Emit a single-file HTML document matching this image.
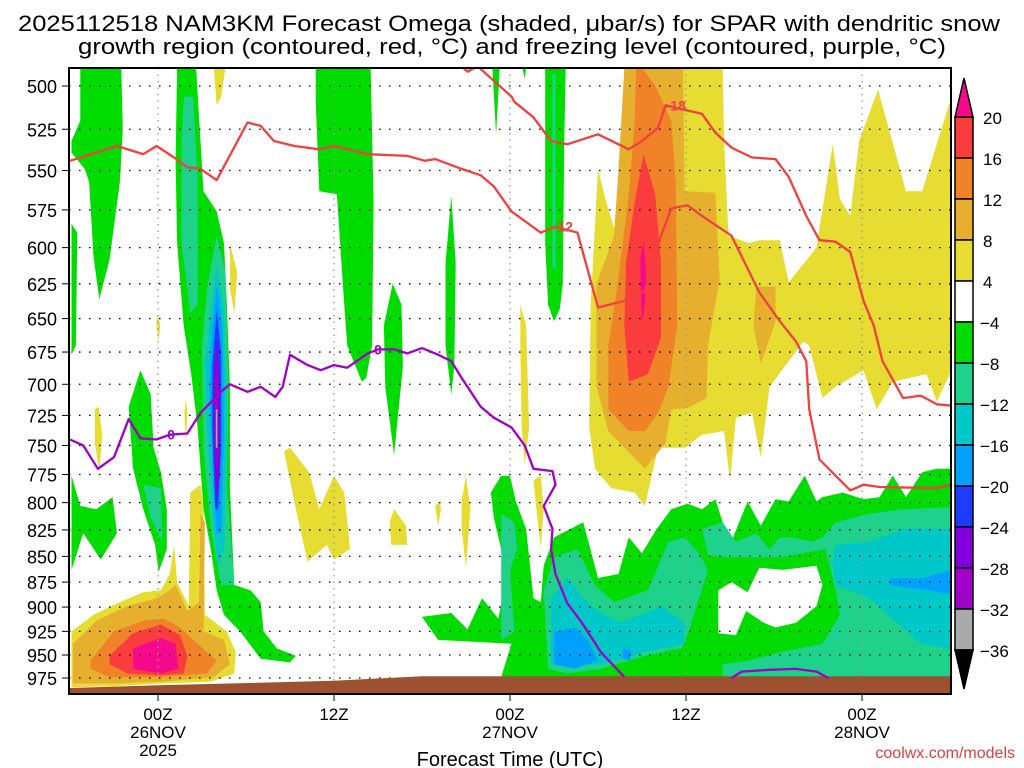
<!DOCTYPE html>
<html><head><meta charset="utf-8"><style>
html,body{margin:0;padding:0;background:#fff;}
svg{display:block;font-family:"Liberation Sans",sans-serif;}
</style></head><body>
<svg id="chart" width="1024" height="768" viewBox="0 0 1024 768" xmlns="http://www.w3.org/2000/svg">
<defs><clipPath id="plotclip"><rect x="69" y="68" width="882" height="626"/></clipPath></defs>
<text x="18" y="31" font-size="22" textLength="982" lengthAdjust="spacingAndGlyphs">2025112518 NAM3KM Forecast Omega (shaded, μbar/s) for SPAR with dendritic snow</text>
<text x="78" y="54" font-size="22" textLength="868" lengthAdjust="spacingAndGlyphs">growth region (contoured, red, °C) and freezing level (contoured, purple, °C)</text>
<g id="shade" clip-path="url(#plotclip)"></g>
<g id="grid" clip-path="url(#plotclip)"></g>
<g id="ground" clip-path="url(#plotclip)"></g>
<g id="contours" clip-path="url(#plotclip)"></g>
<rect x="69" y="68" width="882" height="626" fill="none" stroke="#000" stroke-width="2"/>
<g id="axes"></g>
<g id="cbar"></g>
<text x="510" y="766" font-size="20" text-anchor="middle">Forecast Time (UTC)</text>
<text x="1015" y="758" font-size="16" fill="#e04040" text-anchor="end">coolwx.com/models</text>
</svg>
<script>
// ===== data =====
const pressureTicks = [500,525,550,575,600,625,650,675,700,725,750,775,800,825,850,875,900,925,950,975];
const timeTicksHours = [0,12,24,36,48];
const timeTickLabels = [["00Z","26NOV","2025"],["12Z"],["00Z","27NOV"],["12Z"],["00Z","28NOV"]];
const cbarLevels = [20,16,12,8,4,-4,-8,-12,-16,-20,-24,-28,-32,-36];
const cbarColors = ["#f50a8c","#fa3c3c","#f08228","#e6af2d","#e6dc32","#ffffff","#00dc00","#1ed28c","#00c8c8","#00a0ff","#1e3cff","#8200dc","#a000c8","#aaaaaa","#000000"];
const shadeColor = {m:"#f50a8c",r:"#fa3c3c",o:"#f08228",go:"#e6af2d",y:"#e6dc32",w:"#ffffff",g:"#00dc00",t:"#1ed28c",c:"#00c8c8",lb:"#00a0ff",b:"#1e3cff",pu:"#8200dc",vi:"#a000c8",gr:"#aaaaaa"};
// shaded regions: [class, [[hour, hPa], ...]]
const shadeRegions = [
 ["g",[[-5.3,490],[-2.5,490],[-2.4,525],[-2.6,557],[-3.3,608],[-4.0,636],[-4.4,606],[-4.7,557],[-5.0,549],[-5.9,539],[-5.9,532],[-5.3,520]]],
 ["g",[[-5.9,584],[-5.5,590],[-5.6,670],[-5.9,677]]],
 ["g",[[-5.9,776],[-5.3,803],[-4.2,806],[-3.1,795],[-2.8,828],[-3.9,853],[-5.1,828],[-5.9,863]]],
 ["g",[[-2.0,718],[-1.2,689],[-0.5,708],[-0.3,752],[0.2,773],[0.6,806],[0.6,843],[0.05,865],[-0.2,839],[-1.0,806],[-1.7,770]]],
 ["g",[[1.3,490],[2.6,490],[3.1,563],[4.0,576],[4.5,597],[4.7,640],[4.9,702],[4.9,787],[5.2,878],[6.3,883],[7.0,895],[7.2,925],[8.1,943],[9.4,951],[9.0,958],[7.0,954],[5.6,925],[4.5,908],[4.0,883],[3.6,843],[3.1,806],[2.7,735],[2.3,695],[1.75,655],[1.3,597],[1.2,544]]],
 ["g",[[10.75,490],[14.5,490],[14.7,570],[14.6,670],[14.2,695],[13.9,698],[12.9,670],[12.6,625],[12.2,565],[11.0,563],[10.75,509]]],
 ["g",[[16.0,625],[16.6,640],[16.7,686],[16.1,758],[15.5,702],[15.4,655]]],
 ["g",[[20.0,566],[20.3,611],[20.2,686],[20.0,708],[19.6,670],[19.6,611]]],
 ["g",[[22.8,490],[23.3,490],[23.05,528]]],
 ["g",[[24.85,490],[25.1,490],[25.0,496]]],
 ["g",[[26.4,490],[27.8,490],[27.7,532],[27.6,625],[27.4,643],[27.0,652],[26.6,640],[26.4,597]]],
 ["g",[[22.7,791],[23.4,776],[24.0,776],[24.4,799],[25.1,824],[25.4,863],[25.6,891],[26.1,895],[26.3,859],[27.0,832],[29.0,818],[30.0,871],[31.4,867],[32.1,832],[33.0,847],[34.0,824],[35.0,806],[36.1,801],[37.1,806],[38.0,797],[39.0,839],[40.2,799],[41.1,821],[42.1,797],[43.0,799],[44.1,776],[44.9,799],[45.3,795],[46.7,791],[48.1,797],[49.2,795],[50.1,776],[51.0,795],[52.1,773],[53.1,770],[54.1,770],[54.1,974],[23.4,974],[24.1,938],[19.1,934],[18.0,910],[20.0,906],[21.1,923],[22.1,891],[23.2,912],[23.8,867],[22.9,814]]],
 ["y",[[-5.9,925],[-4.4,908],[-2.6,895],[-1.0,885],[0.2,883],[0.8,867],[1.1,839],[1.3,875],[2.1,899],[2.2,791],[2.9,784],[3.1,806],[3.2,908],[4.7,925],[5.3,947],[5.2,970],[3.6,979],[0.2,981],[-3.0,984],[-5.9,985]]],
 ["y",[[3.8,490],[4.6,490],[4.3,506],[4.0,511]]],
 ["y",[[4.9,597],[5.4,617],[5.2,646],[4.9,628]]],
 ["y",[[-0.07,646],[0.16,655],[0.05,667],[-0.1,655]]],
 ["y",[[-4.3,720],[-4.05,718],[-3.8,741],[-4.0,773],[-4.3,748]]],
 ["y",[[1.9,711],[2.0,723],[1.9,748],[1.8,723]]],
 ["y",[[8.6,755],[9.0,752],[10.3,773],[11.0,806],[12.0,776],[12.7,791],[13.1,843],[12.0,853],[11.5,839],[10.2,855],[9.4,806]]],
 ["y",[[15.8,818],[16.1,806],[16.9,821],[17.0,839],[15.9,839]]],
 ["y",[[18.9,803],[19.2,799],[19.3,806],[19.1,821]]],
 ["y",[[20.7,799],[21.0,776],[21.3,806],[21.0,861],[20.7,824]]],
 ["y",[[24.7,640],[25.1,655],[25.3,735],[25.0,766],[24.8,735],[24.7,670]]],
 ["y",[[25.6,780],[26.1,776],[26.3,806],[26.1,842],[25.8,806]]],
 ["y",[[31.8,490],[38.5,490],[38.6,532],[38.9,592],[40.3,597],[41.0,595],[42.4,595],[43.0,624],[44.9,600],[46.0,534],[46.5,568],[47.2,579],[47.8,532],[49.1,502],[51.0,563],[52.1,563],[54.0,509],[54.1,509],[54.1,689],[53.1,714],[52.4,692],[50.1,698],[49.0,720],[48.1,689],[46.2,702],[45.3,711],[44.4,670],[44.0,667],[43.0,682],[41.7,702],[41.1,760],[40.5,723],[39.4,727],[39.0,780],[38.6,738],[37.1,741],[35.9,752],[34.1,752],[33.2,803],[32.5,791],[30.9,787],[29.8,770],[29.4,735],[29.5,640],[30.0,549],[30.5,568],[31.1,587],[31.6,539]]],
 ["go",[[-5.8,938],[-4.2,914],[-2.1,899],[-0.1,891],[0.8,883],[1.2,878],[2.0,904],[2.8,895],[2.9,810],[3.2,818],[3.1,925],[4.5,934],[4.9,960],[3.8,974],[0.2,979],[-3.0,981],[-5.8,981]]],
 ["go",[[31.8,490],[35.8,490],[35.9,563],[38.0,564],[38.3,622],[37.5,670],[37.4,711],[36.1,719],[35.0,720],[34.6,748],[33.2,770],[30.7,738],[29.9,702],[29.9,625],[31.1,592],[31.4,549],[31.7,504]]],
 ["go",[[40.8,627],[42.1,627],[42.1,652],[41.1,684],[40.6,655]]],
 ["o",[[-4.6,956],[-3.0,925],[-1.0,914],[0.4,912],[1.5,921],[2.4,934],[4.0,956],[3.35,970],[0.2,974],[-3.3,974],[-4.6,965]]],
 ["o",[[33.0,490],[33.9,500],[35.0,520],[35.3,557],[35.4,655],[34.8,702],[34.1,723],[33.2,738],[32.1,738],[30.7,720],[30.7,670],[31.3,628],[32.1,565],[32.5,520],[32.6,490]]],
 ["r",[[-3.3,951],[-1.7,927],[0.2,918],[1.5,929],[2.0,951],[1.75,970],[0.2,972],[-2.1,970],[-3.3,960]]],
 ["r",[[33.1,540],[33.9,565],[34.3,611],[34.3,664],[33.4,692],[32.1,698],[31.8,655],[31.9,611],[32.5,570]]],
 ["m",[[-1.7,943],[0.2,932],[1.2,938],[1.4,965],[0.2,970],[-1.7,965]]],
 ["m",[[33.1,595],[33.3,620],[33.2,640],[33.0,653],[32.9,628],[32.9,608]]],
 ["t",[[-1.0,784],[0.2,787],[0.3,836],[-0.5,814]]],
 ["t",[[1.75,506],[2.4,506],[2.7,557],[2.7,640],[2.2,646],[1.6,597],[1.6,532]]],
 ["t",[[3.35,628],[4.0,592],[4.6,617],[4.8,702],[4.7,787],[5.2,878],[4.3,878],[3.6,824],[3.1,752],[3.0,670]]],
 ["t",[[26.9,493],[27.1,493],[27.1,614],[26.9,614]]],
 ["t",[[23.4,810],[24.3,818],[24.5,843],[24.0,863],[24.3,925],[23.4,934]]],
 ["t",[[26.3,883],[27.0,851],[28.6,843],[29.8,878],[31.1,895],[33.4,883],[34.8,836],[35.9,832],[36.9,847],[37.5,863],[36.2,925],[35.7,943],[33.2,951],[30.2,965],[27.9,970],[26.6,965]]],
 ["t",[[37.1,824],[38.5,818],[39.4,836],[40.8,828],[41.7,843],[42.4,832],[43.3,832],[44.6,836],[45.3,832],[46.2,818],[48.5,810],[50.8,806],[54.1,804],[54.1,974],[38.5,974],[38.5,960],[40.3,956],[42.4,947],[45.3,938],[46.5,908],[46.2,883],[45.5,843],[42.4,851],[40.8,851],[38.9,851],[37.5,849]]],
 ["w",[[38.2,883],[39.1,875],[40.2,885],[41.0,861],[42.6,863],[44.9,859],[45.3,878],[44.9,899],[43.5,916],[42.1,921],[41.3,916],[40.1,904],[39.4,929],[38.2,927]]],
 ["c",[[3.5,655],[4.0,611],[4.5,643],[4.7,735],[4.5,843],[4.1,859],[3.7,806],[3.35,735],[3.2,686]]],
 ["c",[[26.8,891],[27.9,871],[29.5,899],[31.4,916],[33.0,908],[34.3,899],[35.9,916],[35.9,938],[33.2,947],[30.2,960],[26.8,960]]],
 ["c",[[46.2,839],[48.5,836],[50.8,824],[54.1,824],[54.1,943],[52.0,938],[50.4,916],[48.5,891],[46.2,878],[46.0,855]]],
 ["lb",[[3.6,670],[4.0,625],[4.4,655],[4.5,735],[4.3,828],[4.0,828],[3.7,770],[3.5,702]]],
 ["lb",[[27.0,925],[28.4,921],[29.3,934],[30.0,956],[28.4,965],[27.0,960]]],
 ["lb",[[49.9,871],[52.2,871],[54.1,863],[54.1,887],[52.4,883],[49.9,878]]],
 ["lb",[[31.7,943],[32.3,945],[32.2,956],[31.7,954]]],
 ["b",[[3.7,686],[4.0,643],[4.3,676],[4.3,752],[4.1,806],[3.9,806],[3.7,735]]],
 ["pu",[[3.8,702],[4.0,664],[4.2,695],[4.2,770],[4.0,799],[3.85,762]]],
 ["vi",[[3.9,702],[4.0,676],[4.1,702],[4.1,752],[4.0,773],[3.9,752]]],
 ["gr",[[3.94,720],[4.05,720],[4.05,752],[3.94,752]]]
];
const terrainTop = [[-6.1,986],[0,983],[12,978],[18,973],[54.2,973]];
const dgzWarmHours = [-6.0,-2.8,-1.0,-0.1,1.1,2.0,2.9,4.0,6.1,7.0,7.9,9.3,11.0,12.0,14.3,17.0,18.2,18.9,20.7,22.0,22.9,24.1,26.1,27.1,28.6,30.0,31.8,33.2,34.3,35.0,36.1,37.1,39.1,41.0,42.4,43.5,44.2,44.4,45.1,47.2,48.1,49.2,53.1,54.1];
const dgzWarmPress = [544,535,540,535,542,548,549,556,521,523,532,535,537,535,540,541,544,543,549,553,560,576,590,586,590,642,637,630,592,574,572,579,592,631,652,667,682,720,762,789,784,786,787,784];
const dgzColdHours = [20.7,21.1,21.8,24.1,24.3,25.6,26.8,27.9,30.0,32.1,33.0,34.1,34.6,36.1,37.1,38.0,39.1,40.5,42.1,43.0,44.2,45.1,46.2,47.2,48.1,48.8,49.4,50.8,52.0,53.1,54.1];
const dgzColdPress = [489,492,489,506,509,518,532,534,528,537,532,524,511,514,516,527,536,542,543,554,579,595,596,603,637,655,682,711,709,716,717];
const frzHours = [-6.0,-5.1,-4.1,-3.0,-2.0,-1.2,-0.1,0.8,2.0,2.9,4.3,4.9,6.1,7.0,8.0,8.5,9.0,10.2,11.1,12.0,12.9,14.3,15.0,16.1,17.0,18.0,19.1,20.0,20.7,22.0,22.9,24.1,25.0,25.6,26.9,27.1,26.3,26.9,26.8,27.1,27.9,28.9,30.2,31.8];
const frzPress = [745,750,770,760,728,744,745,741,740,723,706,700,706,702,710,702,677,685,689,685,687,676,673,673,676,672,677,682,695,718,727,735,750,770,772,784,803,824,843,867,896,916,947,974];
const frz2Hours = [39.1,39.8,41.7,43.5,44.9,45.7];
const frz2Press = [975,968,966,965,968,975];
const contourLabels = [["-12",27.6,586,"#f04040"],["-18",35.3,511,"#f04040"],["0",0.9,741,"#a000c8"],["0",15.0,673,"#a000c8"]];

// ===== axes =====
const NS="http://www.w3.org/2000/svg";
const xOf = h => 158 + 14.667*h;
const yOf = p => 86 + 886.5*Math.log(p/500);
function mk(tag, parent){const e=document.createElementNS(NS,tag);parent.appendChild(e);return e;}
const pts = arr => arr.map(d=>xOf(d[0]).toFixed(1)+","+yOf(d[1]).toFixed(1)).join(" ");

const shadeG=document.getElementById("shade");
shadeRegions.forEach(r=>{
  const pg=mk("polygon",shadeG);
  
  
  pg.setAttribute("points",pts(r[1]));
  pg.setAttribute("fill",shadeColor[r[0]]);
});

const gridG=document.getElementById("grid");
pressureTicks.forEach(p=>{
  const l=mk("line",gridG);
  
  
  l.setAttribute("x1",69);l.setAttribute("x2",951);l.setAttribute("y1",yOf(p));l.setAttribute("y2",yOf(p));
  l.setAttribute("stroke","#000");l.setAttribute("stroke-width","1.3");l.setAttribute("stroke-dasharray","1.5,8.5");
});
timeTicksHours.forEach(h=>{
  const l=mk("line",gridG);
  
  
  l.setAttribute("x1",xOf(h));l.setAttribute("x2",xOf(h));l.setAttribute("y1",68);l.setAttribute("y2",694);
  l.setAttribute("stroke","#999");l.setAttribute("stroke-width","1.3");l.setAttribute("stroke-dasharray","1.5,5");
});

const gG=document.getElementById("ground");
const gp=mk("polygon",gG);


gp.setAttribute("points",pts(terrainTop)+" "+xOf(54.2)+",700 "+xOf(-6.2)+",700");
gp.setAttribute("fill","#9c5230");

const cG=document.getElementById("contours");
function line(hs,ps,col,name){
  const pl=mk("polyline",cG);
  
  
  pl.setAttribute("points",hs.map((h,i)=>xOf(h).toFixed(1)+","+yOf(ps[i]).toFixed(1)).join(" "));
  pl.setAttribute("fill","none");pl.setAttribute("stroke",col);pl.setAttribute("stroke-width","2.3");pl.setAttribute("stroke-linejoin","round");
}
line(dgzWarmHours,dgzWarmPress,"#f04040","dgz-minus12-contour");
line(dgzColdHours,dgzColdPress,"#f04040","dgz-minus18-contour");
line(frzHours,frzPress,"#a000c8","freezing-level-contour");
line(frz2Hours,frz2Press,"#a000c8","freezing-level-contour-2");
contourLabels.forEach(c=>{
  const t=mk("text",cG);
  
  
  t.setAttribute("x",xOf(c[1]));t.setAttribute("y",yOf(c[2])+5);t.setAttribute("font-size","14");t.setAttribute("font-weight","bold");
  t.setAttribute("fill",c[3]);t.setAttribute("text-anchor","middle");t.textContent=c[0];
});

const aG=document.getElementById("axes");
pressureTicks.forEach(p=>{
  const t=mk("text",aG);
  
  
  t.setAttribute("x",57);t.setAttribute("y",yOf(p)+7);t.setAttribute("font-size","18");t.setAttribute("text-anchor","end");t.textContent=p;
  const k=mk("line",aG);
  
  
  k.setAttribute("x1",62);k.setAttribute("x2",69);k.setAttribute("y1",yOf(p));k.setAttribute("y2",yOf(p));k.setAttribute("stroke","#000");
});
timeTicksHours.forEach((h,i)=>{
  const k=mk("line",aG);
  
  
  k.setAttribute("x1",xOf(h));k.setAttribute("x2",xOf(h));k.setAttribute("y1",694);k.setAttribute("y2",701);k.setAttribute("stroke","#000");
  timeTickLabels[i].forEach((s,j)=>{
    const t=mk("text",aG);
    
    
    t.setAttribute("x",xOf(h));t.setAttribute("y",720+j*18);t.setAttribute("font-size","17");t.setAttribute("text-anchor","middle");t.textContent=s;
  });
});

const cb=document.getElementById("cbar");
const cbX=955,cbW=18,cbTop=117,cbStep=41;
const n=cbarLevels.length;
function cbPoly(pointsStr,fill,name){
  const p=mk("polygon",cb);
  
  
  p.setAttribute("points",pointsStr);p.setAttribute("fill",fill);p.setAttribute("stroke","#000");p.setAttribute("stroke-width","1.5");
}
cbPoly(`${cbX},${cbTop} ${cbX+cbW/2},${cbTop-39} ${cbX+cbW},${cbTop}`,cbarColors[0],"colorbar-top-arrow");
for(let i=0;i<n-1;i++){
  const y=cbTop+i*cbStep;
  cbPoly(`${cbX},${y} ${cbX+cbW},${y} ${cbX+cbW},${y+cbStep} ${cbX},${y+cbStep}`,cbarColors[i+1],"colorbar-box");
}
const cbBot=cbTop+(n-1)*cbStep;
cbPoly(`${cbX},${cbBot} ${cbX+cbW},${cbBot} ${cbX+cbW/2},${cbBot+39}`,cbarColors[n],"colorbar-bottom-arrow");
cbarLevels.forEach((v,i)=>{
  const t=mk("text",cb);
  
  
  t.setAttribute("x",v<0?980:983);t.setAttribute("y",cbTop+i*cbStep+7);t.setAttribute("font-size","17");
  t.textContent=v<0?"\u2212"+Math.abs(v):String(v);
});
</script>
</body></html>
